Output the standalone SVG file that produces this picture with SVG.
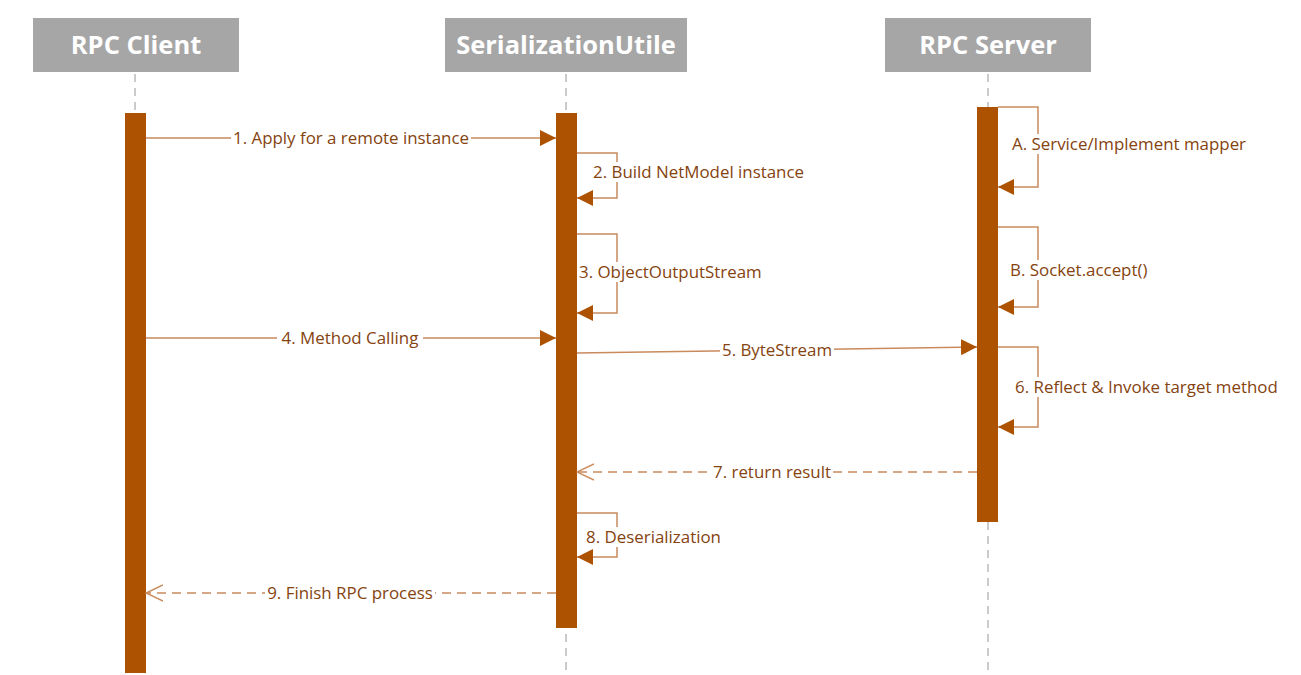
<svg xmlns="http://www.w3.org/2000/svg" width="1301" height="675" viewBox="0 0 1301 675">
<style>
.hdr{fill:#a6a6a6}
.ht{font-family:"Open Sans","Noto Sans",sans-serif;font-size:25.5px;font-weight:bold;fill:#ffffff;text-anchor:middle}
.life{stroke:#bbbbbb;stroke-width:1.5;stroke-dasharray:8 6;fill:none}
.bar{fill:#ad5200}
.msg{stroke:#c98a5c;stroke-width:1.5;fill:none}
.ret{stroke:#c98a5c;stroke-width:1.5;fill:none;stroke-dasharray:9 6}
.lbl{font-family:"Open Sans","Noto Sans",sans-serif;font-size:16.9px;fill:#85430f}
.bg{fill:#ffffff}
</style>
<defs>
<marker id="fill" viewBox="0 0 16 16" refX="16" refY="8" markerWidth="16" markerHeight="16" markerUnits="userSpaceOnUse" orient="auto">
<path d="M0,0 L16,8 L0,16 Z" fill="#ad5200"/>
</marker>
<marker id="open" viewBox="0 0 18 18" refX="17" refY="9" markerWidth="18" markerHeight="18" markerUnits="userSpaceOnUse" orient="auto">
<path d="M0,1 L17,9 L0,17" fill="none" stroke="#c98a5c" stroke-width="1.5"/>
</marker>
</defs>
<g id="client">
<rect class="hdr" x="33" y="18" width="206" height="54"/>
<text class="ht" x="136" y="54">RPC Client</text>
<line class="life" x1="135" y1="74" x2="135" y2="675"/>
<rect class="bar" x="125" y="113" width="21" height="560"/>
</g>
<g id="serial">
<rect class="hdr" x="445" y="18" width="242" height="54"/>
<text class="ht" x="566" y="54">SerializationUtile</text>
<line class="life" x1="566" y1="74" x2="566" y2="675"/>
<rect class="bar" x="556" y="113" width="21" height="515"/>
</g>
<g id="server">
<rect class="hdr" x="885" y="18" width="206" height="54"/>
<text class="ht" x="988" y="54">RPC Server</text>
<line class="life" x1="988" y1="74" x2="988" y2="675"/>
<rect class="bar" x="977" y="107" width="21" height="415"/>
</g>
<g id="connectors">
<line class="msg" x1="146" y1="138" x2="556" y2="138" marker-end="url(#fill)"/>
<path class="msg" d="M577,153 H617 V198 H577" marker-end="url(#fill)"/>
<path class="msg" d="M577,234 H617 V313 H577" marker-end="url(#fill)"/>
<line class="msg" x1="146" y1="338" x2="556" y2="338" marker-end="url(#fill)"/>
<line class="msg" x1="577" y1="353" x2="977" y2="347" marker-end="url(#fill)"/>
<path class="msg" d="M998,107 H1038 V187 H998" marker-end="url(#fill)"/>
<path class="msg" d="M998,227 H1038 V307 H998" marker-end="url(#fill)"/>
<path class="msg" d="M998,347 H1038 V427 H998" marker-end="url(#fill)"/>
<line class="ret" x1="977" y1="472" x2="577" y2="472" marker-end="url(#open)"/>
<path class="msg" d="M577,513 H617 V557 H577" marker-end="url(#fill)"/>
<line class="ret" x1="556" y1="593" x2="146" y2="593" marker-end="url(#open)"/>
</g>
<g id="labels">
<rect class="bg" x="231" y="128" width="240" height="20"/>
<text class="lbl" x="351" y="144" text-anchor="middle">1. Apply for a remote instance</text>
<rect class="bg" x="590" y="162" width="216" height="20"/>
<text class="lbl" x="593" y="178">2. Build NetModel instance</text>
<rect class="bg" x="578" y="262" width="193" height="20"/>
<text class="lbl" x="579" y="278">3. ObjectOutputStream</text>
<rect class="bg" x="277" y="328" width="146" height="20"/>
<text class="lbl" x="350" y="344" text-anchor="middle">4. Method Calling</text>
<rect class="bg" x="720" y="340" width="114" height="20"/>
<text class="lbl" x="777" y="356" text-anchor="middle">5. ByteStream</text>
<rect class="bg" x="1009" y="134" width="239" height="20"/>
<text class="lbl" x="1012" y="150">A. Service/Implement mapper</text>
<rect class="bg" x="1007" y="260" width="141" height="20"/>
<text class="lbl" x="1010" y="276">B. Socket.accept()</text>
<rect class="bg" x="1012" y="377" width="272" height="20"/>
<text class="lbl" x="1015" y="393">6. Reflect &amp; Invoke target method</text>
<rect class="bg" x="712" y="462" width="121" height="20"/>
<text class="lbl" x="772" y="478" text-anchor="middle">7. return result</text>
<rect class="bg" x="583" y="527" width="139" height="20"/>
<text class="lbl" x="586" y="543">8. Deserialization</text>
<rect class="bg" x="265" y="583" width="170" height="20"/>
<text class="lbl" x="350" y="599" text-anchor="middle">9. Finish RPC process</text>
</g>
</svg>
